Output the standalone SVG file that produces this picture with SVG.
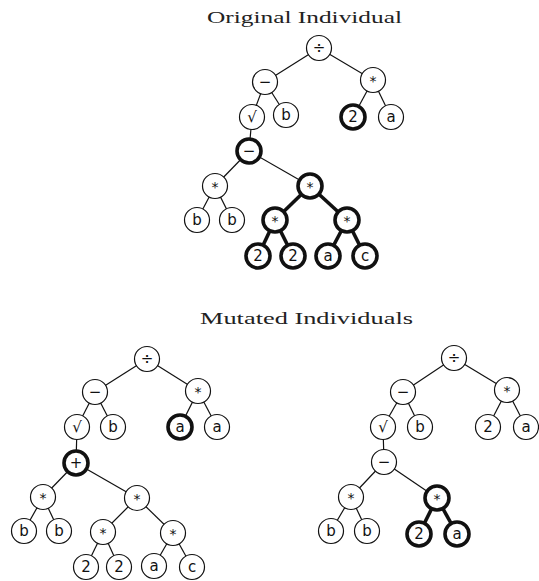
<svg xmlns="http://www.w3.org/2000/svg" width="539" height="581" viewBox="0 0 539 581">
<style>
.bg{fill:#fff}
.title{font-family:"Liberation Serif","DejaVu Serif",serif;font-size:17px;fill:#222}
circle{fill:#fff;stroke:#111;stroke-width:1.2}
.b circle{stroke-width:3.6}
text.l{font-family:"DejaVu Sans","Liberation Sans",sans-serif;font-size:15px;fill:#111;text-anchor:middle}
text.s{font-size:14px}
.e line{stroke:#111;stroke-width:1.2}
.e line.k{stroke-width:3.6}
</style>
<rect class="bg" width="539" height="581"/>
<text class="title" x="207" y="23" textLength="195" lengthAdjust="spacingAndGlyphs">Original Individual</text>
<text class="title" x="200" y="324" textLength="213" lengthAdjust="spacingAndGlyphs">Mutated Individuals</text>

<g id="connectors" class="e">
<!-- original -->
<line x1="319" y1="48" x2="265" y2="82"/>
<line x1="319" y1="48" x2="373" y2="80"/>
<line x1="265" y1="82" x2="252" y2="117"/>
<line x1="265" y1="82" x2="286" y2="115"/>
<line x1="373" y1="80" x2="353" y2="117"/>
<line x1="373" y1="80" x2="391" y2="117"/>
<line x1="252" y1="117" x2="249" y2="151"/>
<line x1="249" y1="151" x2="215" y2="186"/>
<line x1="249" y1="151" x2="310" y2="186"/>
<line x1="215" y1="186" x2="197" y2="220"/>
<line x1="215" y1="186" x2="232" y2="220"/>
<line class="k" x1="310" y1="186" x2="275" y2="220"/>
<line class="k" x1="310" y1="186" x2="347" y2="220"/>
<line class="k" x1="275" y1="220" x2="258" y2="256"/>
<line class="k" x1="275" y1="220" x2="293" y2="256"/>
<line class="k" x1="347" y1="220" x2="328" y2="256"/>
<line class="k" x1="347" y1="220" x2="365" y2="256"/>
<!-- mutated left -->
<line x1="147" y1="359" x2="95" y2="392"/>
<line x1="147" y1="359" x2="198" y2="391"/>
<line x1="95" y1="392" x2="77" y2="427"/>
<line x1="95" y1="392" x2="113" y2="427"/>
<line x1="198" y1="391" x2="180" y2="427"/>
<line x1="198" y1="391" x2="217" y2="427"/>
<line x1="77" y1="427" x2="76" y2="463"/>
<line x1="76" y1="463" x2="43" y2="497"/>
<line x1="76" y1="463" x2="137" y2="498"/>
<line x1="43" y1="497" x2="24" y2="531"/>
<line x1="43" y1="497" x2="59" y2="531"/>
<line x1="137" y1="498" x2="103" y2="532"/>
<line x1="137" y1="498" x2="173" y2="533"/>
<line x1="103" y1="532" x2="86" y2="567"/>
<line x1="103" y1="532" x2="119" y2="567"/>
<line x1="173" y1="533" x2="154" y2="566"/>
<line x1="173" y1="533" x2="192" y2="567"/>
<!-- mutated right -->
<line x1="454" y1="358" x2="403" y2="392"/>
<line x1="454" y1="358" x2="507" y2="390"/>
<line x1="403" y1="392" x2="383" y2="427"/>
<line x1="403" y1="392" x2="420" y2="427"/>
<line x1="507" y1="390" x2="488" y2="427"/>
<line x1="507" y1="390" x2="526" y2="427"/>
<line x1="383" y1="427" x2="384" y2="462"/>
<line x1="384" y1="462" x2="351" y2="497"/>
<line x1="384" y1="462" x2="437" y2="498"/>
<line x1="351" y1="497" x2="331" y2="531"/>
<line x1="351" y1="497" x2="367" y2="531"/>
<line class="k" x1="437" y1="498" x2="419" y2="534"/>
<line class="k" x1="437" y1="498" x2="457" y2="534"/>
</g>

<!-- Original individual -->
<g id="o1"><circle cx="319" cy="48" r="12.5"/><text class="l" x="319" y="53">÷</text></g>
<g id="o2"><circle cx="265" cy="82" r="12.5"/><text class="l" x="265" y="87">−</text></g>
<g id="o3"><circle cx="373" cy="80" r="12.5"/><text class="l s" x="373" y="86">*</text></g>
<g id="o4"><circle cx="252" cy="117" r="12.5"/><text class="l" x="252" y="122">√</text></g>
<g id="o5"><circle cx="286" cy="115" r="12.5"/><text class="l" x="286" y="120">b</text></g>
<g id="o6" class="b"><circle cx="353" cy="117" r="12"/><text class="l" x="353" y="122">2</text></g>
<g id="o7"><circle cx="391" cy="117" r="12.5"/><text class="l" x="391" y="122">a</text></g>
<g id="o8" class="b"><circle cx="249" cy="151" r="12"/><text class="l" x="249" y="156">−</text></g>
<g id="o9"><circle cx="215" cy="186" r="12.5"/><text class="l s" x="215" y="192">*</text></g>
<g id="o10" class="b"><circle cx="310" cy="186" r="12"/><text class="l s" x="310" y="192">*</text></g>
<g id="o11"><circle cx="197" cy="220" r="12.5"/><text class="l" x="197" y="225">b</text></g>
<g id="o12"><circle cx="232" cy="220" r="12.5"/><text class="l" x="232" y="225">b</text></g>
<g id="o13" class="b"><circle cx="275" cy="220" r="12"/><text class="l s" x="275" y="226">*</text></g>
<g id="o14" class="b"><circle cx="347" cy="220" r="12"/><text class="l s" x="347" y="226">*</text></g>
<g id="o15" class="b"><circle cx="258" cy="256" r="12"/><text class="l" x="258" y="261">2</text></g>
<g id="o16" class="b"><circle cx="293" cy="256" r="12"/><text class="l" x="293" y="261">2</text></g>
<g id="o17" class="b"><circle cx="328" cy="256" r="12"/><text class="l" x="328" y="261">a</text></g>
<g id="o18" class="b"><circle cx="365" cy="256" r="12"/><text class="l" x="365" y="261">c</text></g>

<!-- Mutated left -->
<g id="l1"><circle cx="147" cy="359" r="12.5"/><text class="l" x="147" y="364">÷</text></g>
<g id="l2"><circle cx="95" cy="392" r="12.5"/><text class="l" x="95" y="397">−</text></g>
<g id="l3"><circle cx="198" cy="391" r="12.5"/><text class="l s" x="198" y="397">*</text></g>
<g id="l4"><circle cx="77" cy="427" r="12.5"/><text class="l" x="77" y="432">√</text></g>
<g id="l5"><circle cx="113" cy="427" r="12.5"/><text class="l" x="113" y="432">b</text></g>
<g id="l6" class="b"><circle cx="180" cy="427" r="12"/><text class="l" x="180" y="432">a</text></g>
<g id="l7"><circle cx="217" cy="427" r="12.5"/><text class="l" x="217" y="432">a</text></g>
<g id="l8" class="b"><circle cx="76" cy="463" r="12"/><text class="l" x="76" y="468">+</text></g>
<g id="l9"><circle cx="43" cy="497" r="12.5"/><text class="l s" x="43" y="503">*</text></g>
<g id="l10"><circle cx="137" cy="498" r="12.5"/><text class="l s" x="137" y="504">*</text></g>
<g id="l11"><circle cx="24" cy="531" r="12.5"/><text class="l" x="24" y="536">b</text></g>
<g id="l12"><circle cx="59" cy="531" r="12.5"/><text class="l" x="59" y="536">b</text></g>
<g id="l13"><circle cx="103" cy="532" r="12.5"/><text class="l s" x="103" y="538">*</text></g>
<g id="l14"><circle cx="173" cy="533" r="12.5"/><text class="l s" x="173" y="539">*</text></g>
<g id="l15"><circle cx="86" cy="567" r="12.5"/><text class="l" x="86" y="572">2</text></g>
<g id="l16"><circle cx="119" cy="567" r="12.5"/><text class="l" x="119" y="572">2</text></g>
<g id="l17"><circle cx="154" cy="566" r="12.5"/><text class="l" x="154" y="571">a</text></g>
<g id="l18"><circle cx="192" cy="567" r="12.5"/><text class="l" x="192" y="572">c</text></g>

<!-- Mutated right -->
<g id="r1"><circle cx="454" cy="358" r="12.5"/><text class="l" x="454" y="363">÷</text></g>
<g id="r2"><circle cx="403" cy="392" r="12.5"/><text class="l" x="403" y="397">−</text></g>
<g id="r3"><circle cx="507" cy="390" r="12.5"/><text class="l s" x="507" y="396">*</text></g>
<g id="r4"><circle cx="383" cy="427" r="12.5"/><text class="l" x="383" y="432">√</text></g>
<g id="r5"><circle cx="420" cy="427" r="12.5"/><text class="l" x="420" y="432">b</text></g>
<g id="r6"><circle cx="488" cy="427" r="12.5"/><text class="l" x="488" y="432">2</text></g>
<g id="r7"><circle cx="526" cy="427" r="12.5"/><text class="l" x="526" y="432">a</text></g>
<g id="r8"><circle cx="384" cy="462" r="12.5"/><text class="l" x="384" y="467">−</text></g>
<g id="r9"><circle cx="351" cy="497" r="12.5"/><text class="l s" x="351" y="503">*</text></g>
<g id="r10" class="b"><circle cx="437" cy="498" r="12"/><text class="l s" x="437" y="504">*</text></g>
<g id="r11"><circle cx="331" cy="531" r="12.5"/><text class="l" x="331" y="536">b</text></g>
<g id="r12"><circle cx="367" cy="531" r="12.5"/><text class="l" x="367" y="536">b</text></g>
<g id="r13" class="b"><circle cx="419" cy="534" r="12"/><text class="l" x="419" y="539">2</text></g>
<g id="r14" class="b"><circle cx="457" cy="534" r="12"/><text class="l" x="457" y="539">a</text></g>
</svg>
